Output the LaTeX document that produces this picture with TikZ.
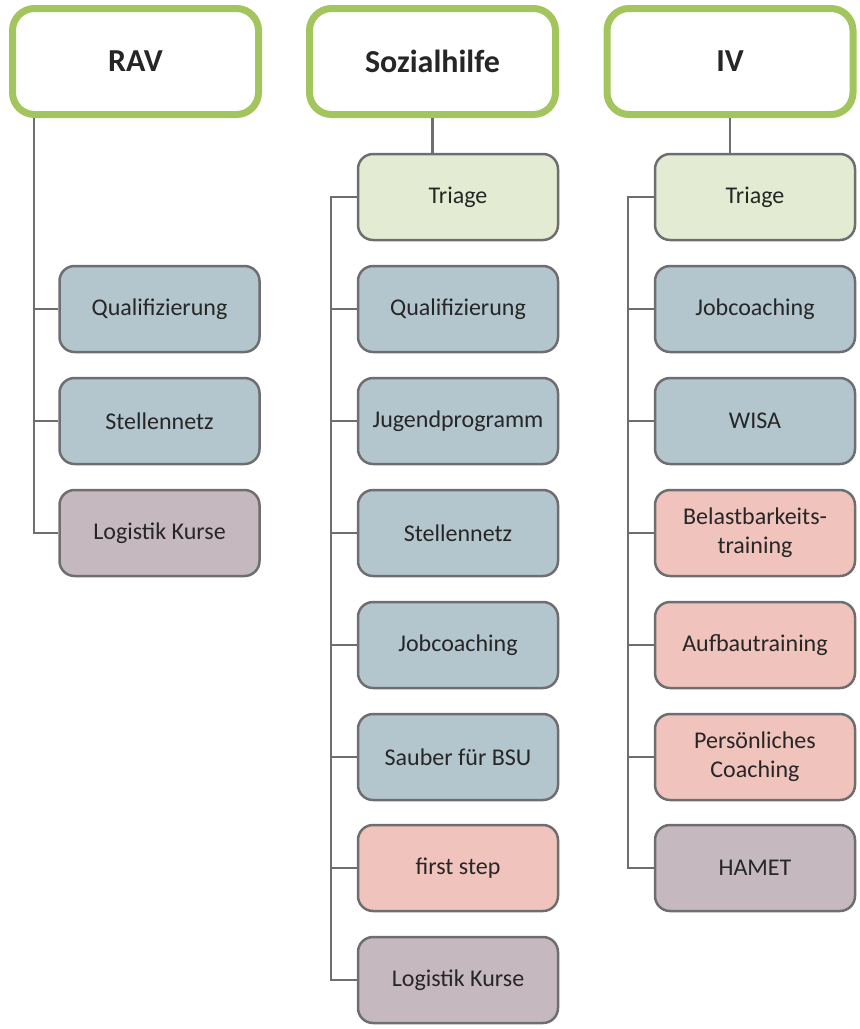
\documentclass[tikz,border=0pt]{standalone}
\usepackage{fontspec}
\setmainfont{Carlito}
\definecolor{hdrgreen}{HTML}{A2C55E}
\definecolor{lgray}{HTML}{6E6E70}
\definecolor{triagec}{HTML}{E3ECD3}
\definecolor{bluec}{HTML}{B3C6CE}
\definecolor{pinkc}{HTML}{F0C4BD}
\definecolor{mauvec}{HTML}{C6B8BF}
\tikzset{
  hdr/.style={draw=hdrgreen, line width=7pt, fill=white, rounded corners=22pt,
    minimum width=246pt, minimum height=106pt, font=\fontsize{32}{38}\selectfont\bfseries, text=black!85},
  item/.style={draw=lgray, line width=2.5pt, rounded corners=15pt,
    minimum width=200pt, minimum height=86pt, align=center,
    font=\fontsize{24}{29}\selectfont, text=black!85},
  tri/.style={item, fill=triagec},
  blu/.style={item, fill=bluec},
  pnk/.style={item, fill=pinkc},
  mau/.style={item, fill=mauvec},
  conn/.style={draw=lgray, line width=2.5pt}
}
\begin{document}
\begin{tikzpicture}[x=1pt,y=-1pt]
\useasboundingbox (0,0) rectangle (860,1029);
% headers
\node[hdr] (rav) at (135.5,61.5) {RAV};
\node[hdr] (soz) at (432.5,61.5) {Sozialhilfe};
\node[hdr] (iv) at (730,61.5) {IV};
% RAV column
\node[blu] (r1) at (159.5,309) {Qualifizierung};
\node[blu] (r2) at (159.5,421) {Stellennetz};
\node[mau] (r3) at (159.5,533) {Logistik Kurse};
% Sozialhilfe column
\node[tri] (s0) at (458,197) {Triage};
\node[blu] (s1) at (458,309) {Qualifizierung};
\node[blu] (s2) at (458,421) {Jugendprogramm};
\node[blu] (s3) at (458,533) {Stellennetz};
\node[blu] (s4) at (458,645) {Jobcoaching};
\node[blu] (s5) at (458,757) {Sauber für BSU};
\node[pnk] (s6) at (458,868) {first step};
\node[mau] (s7) at (458,980) {Logistik Kurse};
% IV column
\node[tri] (i0) at (755,197) {Triage};
\node[blu] (i1) at (755,309) {Jobcoaching};
\node[blu] (i2) at (755,421) {WISA};
\node[pnk] (i3) at (755,533) {Belastbarkeits-\\training};
\node[pnk] (i4) at (755,645) {Aufbautraining};
\node[pnk] (i5) at (755,757) {Persönliches\\Coaching};
\node[mau] (i6) at (755,868) {HAMET};
% connectors
\coordinate (rt) at (34,0);
\coordinate (st) at (331,0);
\coordinate (it) at (628,0);
\draw[conn] (rav.south -| rt) -- (rt |- r3.west) -- (r3.west);
\foreach \n in {r1,r2} \draw[conn] (rt |- \n.west) -- (\n.west);
\draw[conn] (soz.south) -- (soz.south |- s0.north);
\draw[conn] (s0.west) -- (st |- s0.west) -- (st |- s7.west) -- (s7.west);
\foreach \n in {s1,s2,s3,s4,s5,s6} \draw[conn] (st |- \n.west) -- (\n.west);
\draw[conn] (iv.south) -- (iv.south |- i0.north);
\draw[conn] (i0.west) -- (it |- i0.west) -- (it |- i6.west) -- (i6.west);
\foreach \n in {i1,i2,i3,i4,i5} \draw[conn] (it |- \n.west) -- (\n.west);
\end{tikzpicture}
\end{document}
